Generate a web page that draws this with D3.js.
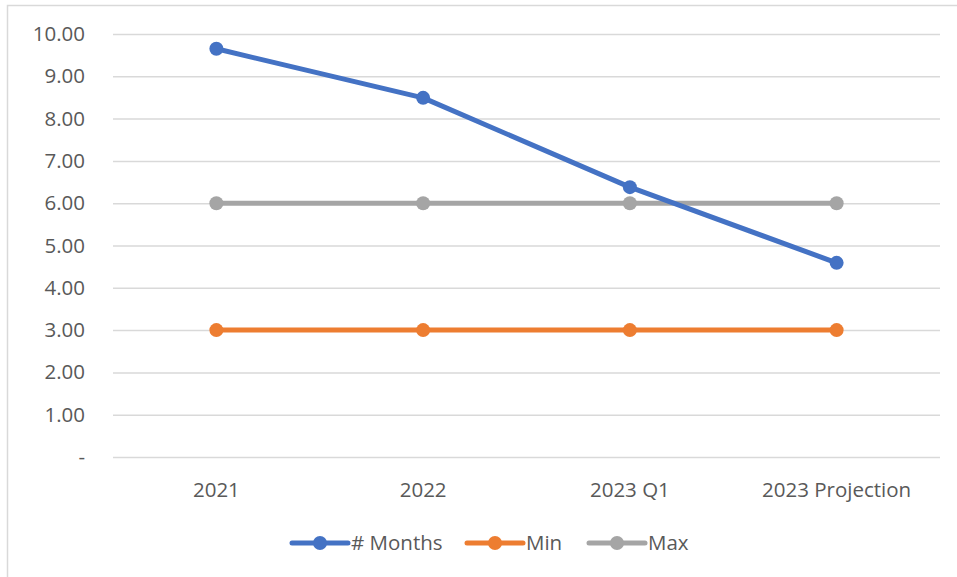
<!DOCTYPE html>
<html>
<head>
<meta charset="utf-8">
<script src="https://cdn.jsdelivr.net/npm/d3@7"></script>
<style>
  body { margin: 0; background: #fff; }
  text { font-family: "Open Sans", Lato, sans-serif; fill: #595959; }
</style>
</head>
<body>
<div id="root"></div>
<script>
const categories = ['2021', '2022', '2023 Q1', '2023 Projection'];
const months = [9.65, 8.49, 6.38, 4.59];
const minValues = [3, 3, 3, 3];
const maxValues = [6, 6, 6, 6];
const yTicks = [0, 1, 2, 3, 4, 5, 6, 7, 8, 9, 10];

const series = [
  { name: '# Months', values: months, color: '#4472C4' },
  { name: 'Min', values: minValues, color: '#ED7D31' },
  { name: 'Max', values: maxValues, color: '#A5A5A5' },
];

const width = 957;
const height = 577;
const margin = { top: 34, right: 17, bottom: 120, left: 113 };
const fontSize = 20.5;
const lineWidth = 5;
const markerR = 7;

const svg = d3.select('#root').append('svg')
  .attr('width', width)
  .attr('height', height);

// outer frame (only top and left visible in the crop)
svg.append('path')
  .attr('d', `M7.5,${height} V5.5 H${width}`)
  .attr('fill', 'none')
  .attr('stroke', '#d9d9d9')
  .attr('stroke-width', 1.5);

const xScale = d3.scaleBand()
  .domain(categories)
  .range([margin.left, width - margin.right]);

const yScale = d3.scaleLinear()
  .domain([0, 10])
  .range([height - margin.bottom, margin.top]);

const grid = svg.append('g')
  .attr('transform', `translate(${margin.left}, 0)`)
  .call(d3.axisLeft(yScale)
    .tickValues(yTicks)
    .tickSize(-(width - margin.left - margin.right))
    .tickFormat(d => d === 0 ? '-' : d3.format('.2f')(d)))
  .call(g => g.select('.domain').remove());

grid.selectAll('.tick line')
  .attr('stroke', '#d9d9d9')
  .attr('stroke-width', 1.5);

grid.selectAll('.tick text')
  .attr('x', -28)
  .attr('font-size', fontSize)
  .attr('fill', '#595959');

const xAxis = svg.append('g')
  .attr('transform', `translate(0, ${height - margin.bottom})`)
  .call(d3.axisBottom(xScale).tickSize(0))
  .call(g => g.select('.domain').remove());

xAxis.selectAll('.tick text')
  .attr('dy', 0)
  .attr('y', 40)
  .attr('font-size', fontSize)
  .attr('fill', '#595959');

const line = d3.line()
  .x((d, i) => xScale(categories[i]) + xScale.bandwidth() / 2)
  .y(d => yScale(d));

// draw Max, Min first so # Months sits on top
[series[2], series[1], series[0]].forEach(s => {
  const g = svg.append('g');
  g.append('path')
    .datum(s.values)
    .attr('d', line)
    .attr('fill', 'none')
    .attr('stroke', s.color)
    .attr('stroke-width', lineWidth)
    .attr('stroke-linejoin', 'round');
  g.selectAll('circle')
    .data(s.values)
    .enter()
    .append('circle')
    .attr('cx', (d, i) => xScale(categories[i]) + xScale.bandwidth() / 2)
    .attr('cy', d => yScale(d))
    .attr('r', markerR)
    .attr('fill', s.color);
});

const legendX = [292, 467, 589];
const legendY = 543;

const legend = svg.append('g');
const items = legend.selectAll('g')
  .data(series)
  .enter()
  .append('g')
  .attr('transform', (d, i) => `translate(${legendX[i]}, ${legendY})`);

items.append('line')
  .attr('x1', 0)
  .attr('x2', 56)
  .attr('stroke', d => d.color)
  .attr('stroke-width', lineWidth)
  .attr('stroke-linecap', 'round');

items.append('circle')
  .attr('cx', 28)
  .attr('r', markerR)
  .attr('fill', d => d.color);

items.append('text')
  .attr('x', 59)
  .attr('dy', '0.35em')
  .attr('font-size', fontSize)
  .text(d => d.name);
</script>
</body>
</html>
